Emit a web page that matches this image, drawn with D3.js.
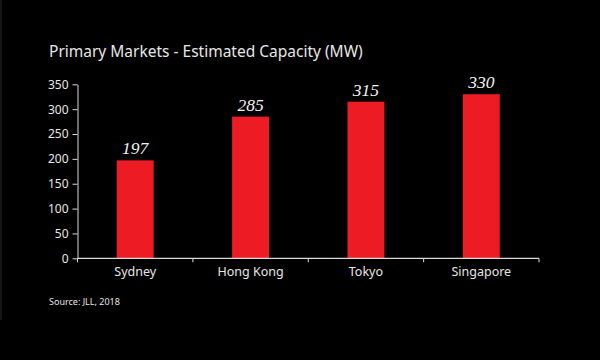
<!DOCTYPE html>
<html><head><meta charset="utf-8">
<script src="https://cdn.jsdelivr.net/npm/d3@7"></script>
<style>html,body{margin:0;padding:0;background:#000;}svg{display:block;}</style>
</head><body>
<script>
const categories = ["Sydney", "Hong Kong", "Tokyo", "Singapore"];
const values = [197, 285, 315, 330];
const yTicks = [0, 50, 100, 150, 200, 250, 300, 350];
const titleText = "Primary Markets - Estimated Capacity (MW)";
const sourceText = "Source: JLL, 2018";

(function () {
const W = 600, H = 360;
const svg = d3.select("body").append("svg").attr("width", W).attr("height", H);
svg.append("rect").attr("width", W).attr("height", H).attr("fill", "#000");
svg.append("line").attr("x1", 1).attr("x2", 1).attr("y1", 0).attr("y2", 320)
  .attr("stroke", "#2a2a2a").attr("stroke-width", 1);

const fontSans = "'Noto Sans', 'Open Sans', sans-serif";
const textCol = "#e6e6e6";

const mLeft = 77.5, mRight = 539, mTop = 84.3, mBottom = 258.3;
const x = d3.scaleBand().domain(categories).range([mLeft, mRight]).paddingInner(0.68).paddingOuter(0.34);
const y = d3.scaleLinear().domain([0, 350]).range([mBottom, mTop]);

svg.append("text").attr("x", 49).attr("y", 57).text(titleText)
  .attr("fill", textCol).style("font-family", fontSans).style("font-size", "15.5px");

svg.selectAll("rect.bar").data(values).enter().append("rect").attr("class", "bar")
  .attr("x", (d, i) => x(categories[i])).attr("width", x.bandwidth())
  .attr("y", d => y(d)).attr("height", d => y(0) - y(d)).attr("fill", "#ed1c24");

svg.selectAll("text.val").data(values).enter().append("text").attr("class", "val")
  .attr("x", (d, i) => x(categories[i]) + x.bandwidth() / 2).attr("y", d => y(d) - 6)
  .attr("text-anchor", "middle").text(d => d)
  .attr("fill", "#f2f2f2").style("font-family", "'Liberation Serif', 'Times New Roman', serif")
  .style("font-style", "italic").style("font-size", "17.5px");

const yAxis = svg.append("g").attr("transform", `translate(${mLeft},0)`)
  .call(d3.axisLeft(y).tickValues(yTicks).tickSize(5).tickPadding(4).tickSizeOuter(0));
yAxis.select(".domain").attr("stroke", "#d9d9d9");
yAxis.selectAll(".tick line").attr("stroke", "#d9d9d9");
yAxis.selectAll(".tick text").attr("fill", textCol).style("font-family", fontSans).style("font-size", "12px");

const boundaries = d3.range(categories.length + 1).map(i => mLeft + i * (mRight - mLeft) / categories.length);
const xg = svg.append("g");
xg.append("line").attr("x1", mLeft).attr("x2", mRight).attr("y1", mBottom).attr("y2", mBottom)
  .attr("stroke", "#d9d9d9").attr("stroke-width", 1.2);
xg.selectAll("line.bt").data(boundaries).enter().append("line").attr("class", "bt")
  .attr("x1", d => d).attr("x2", d => d).attr("y1", mBottom).attr("y2", mBottom + 4)
  .attr("stroke", "#d9d9d9");
xg.selectAll("text.cat").data(categories).enter().append("text").attr("class", "cat")
  .attr("x", d => x(d) + x.bandwidth() / 2).attr("y", 276).attr("text-anchor", "middle")
  .text(d => d).attr("fill", textCol).style("font-family", fontSans).style("font-size", "12.5px");

svg.append("text").attr("x", 49).attr("y", 305).text(sourceText)
  .attr("fill", textCol).style("font-family", fontSans).style("font-size", "9px");
})();
</script>
</body></html>
